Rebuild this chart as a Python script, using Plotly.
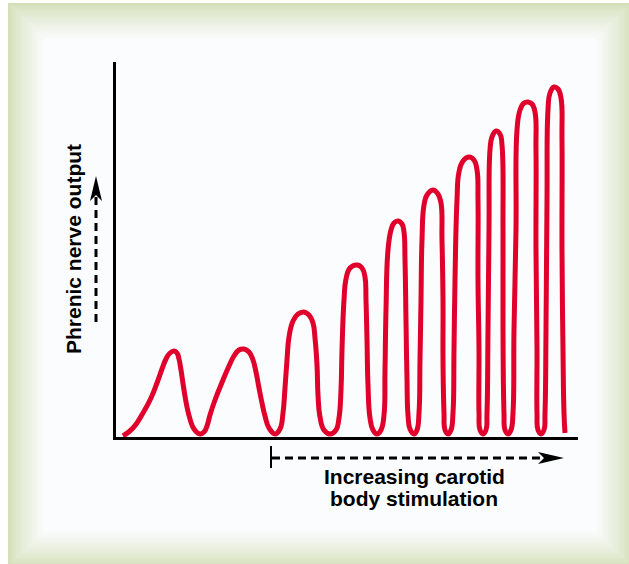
import plotly.graph_objects as go

# ---- data ----
time_pts = [7, 17, 27, 35, 41, 46, 50, 54, 58, 61, 63, 65, 68, 71, 74, 78, 84,
            88, 91, 94, 99, 107, 113, 118, 123, 128, 133, 137, 140, 143, 146, 149, 153, 159,
            164, 167, 169, 171, 173, 177, 182, 188, 193, 197, 199, 201, 202, 204, 208, 214,
            220, 223, 225, 226, 228, 230, 234, 241, 246, 249, 250, 251, 252, 254, 257, 261,
            265, 268, 269, 270, 272, 275, 278, 282, 286, 288, 289, 290, 291, 292, 294, 298,
            301, 303, 304, 305, 306, 308, 311, 317, 322, 325, 326, 327, 327, 328, 329, 332,
            335, 337, 338, 339, 341, 343, 347, 353, 358, 361, 362, 362, 363, 363, 364, 367,
            370, 371, 372, 373, 374, 376, 380, 384, 386, 387, 387, 388, 389, 392,
            395, 397, 398, 400, 401, 404, 408, 412, 416, 419, 420, 420, 421, 421, 422, 425,
            428, 429, 430, 431, 432, 434, 438, 442, 445, 446, 446, 447, 448, 449]
output_pts = [1, 9, 24, 39, 54, 68, 78, 84, 86, 84, 78, 67, 47, 30, 18, 8, 3,
              5, 11, 22, 37, 57, 71, 81, 87, 88, 85, 77, 65, 49, 34, 21, 9, 3,
              8, 24, 49, 77, 100, 116, 123, 125, 122, 114, 99, 72, 42, 20, 7, 3,
              7, 19, 47, 87, 137, 158, 169, 172, 169, 160, 137, 97, 52, 19, 7, 3,
              7, 22, 67, 127, 187, 207, 214, 216, 213, 205, 177, 117, 57, 22, 8, 3,
              7, 24, 77, 137, 197, 232, 242, 247, 243, 234, 197, 137, 77, 24, 7, 3,
              7, 24, 87, 157, 237, 265, 276, 280, 277, 267, 237, 157, 87, 24, 7, 3,
              7, 24, 107, 207, 287, 300, 306, 303, 292, 207, 107, 24, 7, 3,
              7, 24, 107, 207, 307, 327, 334, 335, 333, 325, 287, 187, 87, 24, 7, 3,
              7, 24, 107, 237, 327, 344, 350, 348, 339, 297, 187, 87, 24, 4]

y_label = "Phrenic nerve output"
x_label_lines = ["Increasing carotid", "body stimulation"]

# ---- geometry helpers (pixel -> paper) ----
W, H = 629, 564
L, R, T, B = 116, 51, 62, 127
PW, PH = W - L - R, H - T - B


def px(x):
    return (x - L) / PW


def py(y):
    return (H - B - y) / PH


fig = go.Figure()
fig.add_trace(go.Scatter(
    x=time_pts, y=output_pts, mode="lines",
    line=dict(color="#e0002b", width=5, shape="spline", smoothing=1.3),
    hoverinfo="skip", showlegend=False))

shapes = []
# frame with inner glow (nested rectangles)
edge = (212, 223, 185)
inner = (251, 252, 253)
N = 18
for i in range(N + 1):
    f = (i / N) ** 0.8
    c = tuple(round(edge[k] + (inner[k] - edge[k]) * f) for k in range(3))
    d = i * 2
    shapes.append(dict(type="rect", xref="paper", yref="paper",
                       x0=px(8 + d), x1=px(632 - d), y0=py(3 + d), y1=py(567 - d),
                       fillcolor="rgb(%d,%d,%d)" % c, line=dict(width=0), layer="below"))

# vertical dashed arrow
shapes.append(dict(type="line", xref="paper", yref="paper",
                   x0=px(96), x1=px(96), y0=py(322), y1=py(196),
                   line=dict(color="black", width=3, dash="8px,5px")))
shapes.append(dict(type="path", xref="paper", yref="paper",
                   path="M %f %f L %f %f L %f %f L %f %f Z" % (
                       px(96), py(176), px(90), py(201), px(96), py(195), px(102), py(201)),
                   fillcolor="black", line=dict(width=0)))
# horizontal dashed arrow
shapes.append(dict(type="line", xref="paper", yref="paper",
                   x0=px(271), x1=px(271), y0=py(446), y1=py(468),
                   line=dict(color="black", width=2)))
shapes.append(dict(type="line", xref="paper", yref="paper",
                   x0=px(272), x1=px(545), y0=py(458), y1=py(458),
                   line=dict(color="black", width=3, dash="8px,5px")))
shapes.append(dict(type="path", xref="paper", yref="paper",
                   path="M %f %f L %f %f L %f %f L %f %f Z" % (
                       px(564), py(458), px(538), py(452), px(544), py(458), px(538), py(464)),
                   fillcolor="black", line=dict(width=0)))

font = dict(family="Liberation Sans, Arial, sans-serif", size=21, color="black", weight="bold")
annotations = [
    dict(text=y_label, xref="paper", yref="paper", x=px(73), y=py(249),
         textangle=-90, showarrow=False, font=font, xanchor="center", yanchor="middle"),
    dict(text=x_label_lines[0], xref="paper", yref="paper", x=px(414), y=py(476.5),
         showarrow=False, font=font, xanchor="center", yanchor="middle"),
    dict(text=x_label_lines[1], xref="paper", yref="paper", x=px(414), y=py(498.5),
         showarrow=False, font=font, xanchor="center", yanchor="middle"),
]

fig.update_layout(
    width=W, height=H,
    margin=dict(l=L, r=R, t=T, b=B, pad=0),
    paper_bgcolor="white", plot_bgcolor="rgba(0,0,0,0)",
    shapes=shapes, annotations=annotations, showlegend=False,
    xaxis=dict(range=[0, PW], showgrid=False, zeroline=False, showticklabels=False,
               ticks="", showline=True, linecolor="black", linewidth=2.5, fixedrange=True),
    yaxis=dict(range=[0, PH], showgrid=False, zeroline=False, showticklabels=False,
               ticks="", showline=True, linecolor="black", linewidth=2.5, fixedrange=True),
)

fig.write_html("out.html", config={"displayModeBar": False},
               post_script="document.body.style.margin='0px';document.body.style.overflow='hidden';")
